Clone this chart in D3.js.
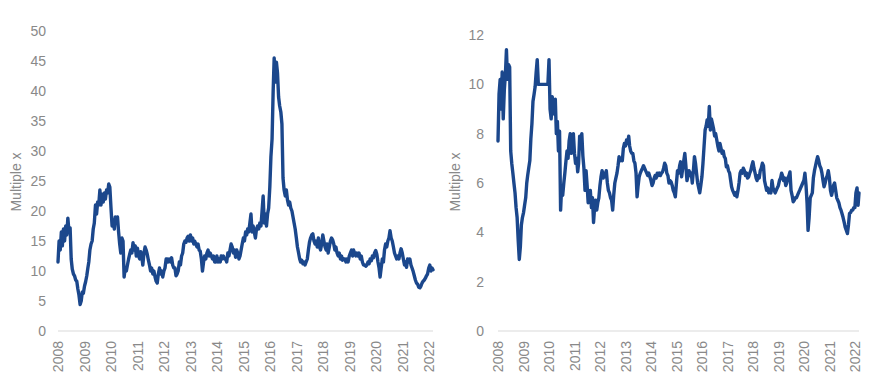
<!DOCTYPE html>
<html>
<head>
<meta charset="utf-8">
<script src="https://cdn.jsdelivr.net/npm/d3@7"></script>
<style>
  html, body { margin: 0; padding: 0; background: #ffffff; }
  svg { display: block; }
  text { font-family: "Liberation Sans", Arial, sans-serif; }
</style>
</head>
<body>
<svg id="chart" width="872" height="384"></svg>
<script>
// ---------------- DATA ----------------
// Semi-monthly observations (1st and 16th of each month), Jan 2008 .. Mar 2022
const startYear = 2008;
const yearLabels = ["2008","2009","2010","2011","2012","2013","2014","2015","2016","2017","2018","2019","2020","2021","2022"];
const leftTicks = [0, 5, 10, 15, 20, 25, 30, 35, 40, 45, 50];
const rightTicks = [0, 2, 4, 6, 8, 10, 12];
const axisTitle = "Multiple x";

// Left panel series (multiple x)
const leftValues = [
  11.5, 15.0, 13.5, 16.5, 14.2, 17.0, 15.0, 17.5, 16.0, 18.8,
  16.5, 17.2, 12.0, 10.3, 9.5, 9.2, 8.5, 8.3, 7.0, 6.0,
  4.4, 5.0, 6.5, 6.3, 7.5, 8.2, 9.2, 10.5, 11.5, 13.5,
  14.5, 15.0, 17.0, 18.0, 21.0, 19.5, 21.5, 21.0, 23.5, 21.0,
  22.8, 21.5, 23.0, 22.0, 23.5, 23.0, 24.5, 24.0, 20.5, 17.5,
  18.5, 17.0, 19.0, 18.0, 19.0, 16.5, 14.5, 13.0, 15.5, 15.0,
  9.0, 10.5, 10.0, 11.0, 12.0, 12.8, 13.5, 13.0, 14.7, 13.5,
  14.2, 12.5, 13.8, 12.5, 12.0, 13.2, 12.5, 11.0, 13.0, 14.0,
  13.5, 12.8, 11.8, 11.0, 10.0, 10.5, 9.5, 10.0, 9.0, 8.3,
  8.0, 9.5, 10.5, 9.5, 10.0, 9.0, 10.0, 10.5, 12.0, 12.0,
  11.5, 12.0, 11.5, 12.2, 11.0, 10.5, 10.5, 9.2, 9.5, 10.0,
  11.5, 11.0, 12.5, 13.0, 14.5, 15.0, 14.8, 15.5, 15.8, 15.0,
  16.0, 15.0, 15.5, 14.5, 15.0, 14.5, 14.0, 14.5, 13.5, 13.3,
  12.0, 10.0, 11.5, 12.5, 12.0, 13.0, 13.5, 12.5, 13.0, 12.5,
  12.0, 12.5, 11.5, 11.5, 12.5, 11.5, 12.0, 11.5, 12.5, 12.0,
  12.5, 12.0, 12.0, 11.5, 13.0, 12.5, 13.5, 14.5, 14.0, 13.0,
  13.5, 12.3, 13.5, 13.0, 12.0, 12.5, 13.5, 14.5, 15.5, 15.0,
  16.5, 16.0, 17.0, 16.5, 18.0, 19.5, 16.5, 17.5, 16.5, 15.5,
  17.0, 17.5, 17.0, 18.0, 17.5, 20.0, 22.5, 18.0, 19.5, 17.5,
  19.5, 20.5, 24.0, 29.0, 32.0, 40.0, 45.5, 41.5, 44.8, 43.0,
  39.0, 37.5, 36.5, 34.5, 25.5, 23.5, 22.5, 23.5, 21.8, 21.0,
  21.5, 20.5, 20.0, 19.0, 18.0, 17.0, 15.5, 14.0, 13.0, 12.0,
  11.5, 11.8, 11.2, 11.5, 11.0, 11.5, 12.0, 13.5, 14.8, 15.5,
  16.0, 16.2, 15.0, 14.5, 15.0, 14.0, 15.5, 14.0, 13.5, 14.5,
  16.0, 15.0, 14.0, 13.5, 14.5, 13.0, 14.0, 15.0, 15.5, 15.2,
  14.5, 13.5, 14.0, 13.0, 12.5, 13.0, 12.0, 12.5, 11.8, 12.0,
  12.0, 11.5, 12.0, 11.5, 12.5, 13.0, 13.5, 12.5, 13.5, 13.0,
  12.5, 13.0, 12.5, 13.0, 12.0, 12.5, 11.5, 11.0, 11.0, 10.8,
  11.0, 11.5, 11.2, 12.0, 11.7, 12.5, 12.2, 13.0, 13.4, 12.8,
  11.5, 10.5, 9.0, 10.5, 12.0, 11.5, 13.5, 14.5, 14.0, 15.0,
  15.5, 16.7, 15.5, 15.0, 14.0, 13.0, 12.5, 12.0, 12.5, 12.0,
  13.0, 13.7, 13.0, 12.0, 11.0, 11.5, 10.6, 12.0, 11.5, 12.0,
  11.0, 10.5, 9.9, 9.2, 8.5, 8.0, 7.8, 7.3, 7.2, 7.5,
  8.0, 8.3, 8.5, 8.8, 9.2, 9.5, 10.5, 11.0, 10.0, 10.5,
  10.2
];

// Right panel series (multiple x)
const rightValues = [
  7.7, 9.6, 10.2, 9.0, 10.5, 8.6, 9.8, 10.4, 11.4, 10.2,
  10.8, 10.7, 7.3, 6.8, 6.4, 6.0, 5.6, 5.0, 4.6, 3.7,
  2.9, 3.4, 4.3, 4.6, 4.8, 5.1, 5.4, 6.0, 6.3, 6.6,
  6.9, 7.8, 8.4, 9.3, 9.6, 9.9, 10.5, 11.0, 10.0, 10.0,
  10.0, 10.0, 10.0, 10.0, 10.0, 10.0, 10.0, 10.0, 11.0, 9.0,
  8.6, 9.5, 9.2, 8.8, 9.4, 8.0, 8.5, 7.3, 8.1, 4.9,
  5.85, 5.5, 6.0, 6.4, 6.9, 7.3, 7.0, 7.7, 8.0, 7.2,
  7.5, 8.0, 7.2, 6.8, 7.0, 6.45, 6.8, 7.9, 7.4, 8.0,
  7.1, 6.6, 5.7, 6.5, 5.9, 5.2, 5.5, 5.7, 5.0, 5.4,
  4.4, 5.0, 5.3, 4.9, 5.2, 5.4, 5.9, 6.25, 6.5, 6.2,
  6.4, 6.25, 6.5, 6.0, 5.7, 5.6, 5.4, 5.3, 4.9, 5.5,
  6.0, 6.2, 6.4, 6.7, 7.07, 6.9, 7.0, 6.9, 7.4, 7.6,
  7.5, 7.74, 7.6, 7.9, 7.5, 7.3, 7.2, 7.2, 6.9, 6.8,
  6.4, 5.44, 5.9, 6.25, 6.4, 6.5, 6.6, 6.7, 6.6, 6.5,
  6.4, 6.3, 6.4, 6.25, 6.1, 5.9, 6.0, 6.2, 6.3, 6.2,
  6.4, 6.3, 6.4, 6.3, 6.4, 6.45, 6.6, 6.8, 6.7, 6.4,
  6.3, 6.0, 6.1, 6.05, 5.9, 5.7, 5.6, 5.44, 6.0, 6.5,
  6.4, 6.7, 6.86, 6.25, 6.6, 6.9, 7.2, 6.7, 6.1, 6.3,
  6.5, 6.3, 6.4, 6.0, 6.5, 7.07, 6.8, 6.4, 6.0, 5.8,
  5.6, 5.9, 6.25, 6.8, 7.5, 8.15, 8.3, 8.56, 8.3, 9.1,
  8.15, 8.6, 8.4, 8.2, 7.9, 8.0, 7.74, 7.5, 7.3, 7.6,
  7.4, 7.2, 7.3, 7.07, 7.0, 6.66, 6.7, 6.5, 6.4, 6.1,
  5.85, 5.7, 5.6, 5.5, 5.6, 5.44, 5.7, 6.0, 6.4, 6.5,
  6.4, 6.6, 6.5, 6.3, 6.4, 6.2, 6.25, 6.4, 6.5, 6.7,
  6.86, 6.6, 6.4, 6.2, 6.1, 6.3, 6.2, 6.5, 6.6, 6.8,
  6.7, 6.1, 5.9, 5.7, 5.8, 5.6, 5.7, 5.6, 6.1, 5.8,
  5.7, 5.6, 5.7, 5.8, 5.9, 6.1, 6.2, 6.4, 6.3, 6.1,
  6.2, 5.9, 6.0, 6.2, 6.3, 6.45, 5.7, 5.5, 5.24, 5.3,
  5.4, 5.4, 5.5, 5.6, 5.7, 5.8, 5.9, 6.0, 6.1, 6.4,
  5.9, 5.17, 4.08, 4.6, 5.4, 5.5, 5.6, 6.2, 6.5, 6.7,
  6.9, 7.07, 6.9, 6.7, 6.6, 6.4, 6.1, 5.85, 6.0, 6.2,
  6.3, 6.5, 6.2, 5.7, 5.5, 5.7, 5.9, 6.0, 5.7, 5.4,
  5.3, 5.2, 5.0, 4.9, 4.75, 4.6, 4.4, 4.2, 4.08, 3.95,
  4.3, 4.76, 4.8, 4.9, 4.9, 5.0, 5.0, 5.6, 5.8, 5.1,
  5.6
];

// observation dates: 1st and 16th of each month from Jan 2008
function obsDate(i) {
  return new Date(startYear, Math.floor(i / 2), i % 2 ? 16 : 1);
}

// ---------------- DRAW ----------------
const svg = d3.select("#chart");
const lineColor = "#1b478c";
const textColor = "#898989";
const axisColor = "#d9d9d9";

function panel(cfg) {
  const g = svg.append("g");
  const x = d3.scaleTime()
    .domain([new Date(startYear, 0, 1), new Date(2022, 2, 1)])
    .range([cfg.x0, cfg.x1]);
  const y = d3.scaleLinear().domain([0, cfg.yMax]).range([cfg.yBottom, cfg.yTop]);

  // y axis labels
  const yAxis = d3.axisLeft(y).tickValues(cfg.ticks).tickSize(0).tickPadding(0)
    .tickFormat(d3.format("d"));
  const ya = g.append("g").attr("transform", `translate(${cfg.yLabelX},0)`).call(yAxis);
  ya.select(".domain").remove();
  ya.selectAll("text")
    .attr("fill", textColor)
    .style("font-size", "14px")
    .style("font-family", "'Liberation Sans', Arial, sans-serif");

  // x axis baseline
  g.append("line")
    .attr("x1", cfg.x0).attr("x2", cfg.x1)
    .attr("y1", y(0)).attr("y2", y(0))
    .attr("stroke", axisColor).attr("stroke-width", 1);

  // x axis year labels
  const yearDates = yearLabels.map(s => new Date(+s, 0, 1));
  const xAxis = d3.axisBottom(x).tickValues(yearDates).tickSize(0)
    .tickFormat((d, i) => yearLabels[i]);
  const xa = g.append("g").attr("transform", `translate(0,${cfg.xLabelTop})`).call(xAxis);
  xa.select(".domain").remove();
  xa.selectAll("text")
    .attr("fill", textColor)
    .style("font-size", "14px")
    .style("font-family", "'Liberation Sans', Arial, sans-serif")
    .attr("text-anchor", "end")
    .attr("dy", "0.35em")
    .attr("y", 0)
    .attr("x", 0)
    .attr("transform", "rotate(-90)");

  // axis title
  g.append("text")
    .attr("transform", `translate(${cfg.titleX},${cfg.titleY}) rotate(-90)`)
    .attr("text-anchor", "middle")
    .attr("dy", "0.35em")
    .attr("fill", textColor)
    .style("font-size", "14px")
    .text(axisTitle);

  // series line
  const line = d3.line()
    .x((d, i) => x(obsDate(i)))
    .y(d => y(d));
  g.append("path")
    .datum(cfg.values)
    .attr("fill", "none")
    .attr("stroke", lineColor)
    .attr("stroke-width", 3.4)
    .attr("stroke-linejoin", "round")
    .attr("stroke-linecap", "round")
    .attr("d", line);
}

panel({
  values: leftValues, yMax: 50, ticks: leftTicks,
  x0: 58, x1: 433, yBottom: 331, yTop: 31,
  yLabelX: 46, xLabelTop: 341, titleX: 16, titleY: 182
});

panel({
  values: rightValues, yMax: 12, ticks: rightTicks,
  x0: 498, x1: 859, yBottom: 331, yTop: 35,
  yLabelX: 484, xLabelTop: 341, titleX: 455, titleY: 182
});
</script>
</body>
</html>
